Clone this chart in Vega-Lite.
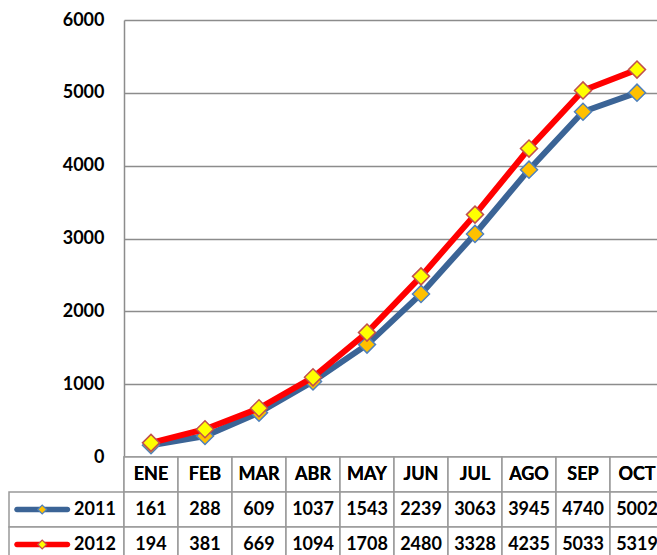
{
  "$schema": "https://vega.github.io/schema/vega-lite/v6.json",
  "padding": {"left": 8, "top": 11, "right": 0, "bottom": 0},
  "background": "white",
  "config": {"font": "Lato", "view": {"stroke": null}},
  "datasets": {
    "valores": [
      {"mes": "ENE", "serie": "2011", "valor": 161},
      {"mes": "FEB", "serie": "2011", "valor": 288},
      {"mes": "MAR", "serie": "2011", "valor": 609},
      {"mes": "ABR", "serie": "2011", "valor": 1037},
      {"mes": "MAY", "serie": "2011", "valor": 1543},
      {"mes": "JUN", "serie": "2011", "valor": 2239},
      {"mes": "JUL", "serie": "2011", "valor": 3063},
      {"mes": "AGO", "serie": "2011", "valor": 3945},
      {"mes": "SEP", "serie": "2011", "valor": 4740},
      {"mes": "OCT", "serie": "2011", "valor": 5002},
      {"mes": "ENE", "serie": "2012", "valor": 194},
      {"mes": "FEB", "serie": "2012", "valor": 381},
      {"mes": "MAR", "serie": "2012", "valor": 669},
      {"mes": "ABR", "serie": "2012", "valor": 1094},
      {"mes": "MAY", "serie": "2012", "valor": 1708},
      {"mes": "JUN", "serie": "2012", "valor": 2480},
      {"mes": "JUL", "serie": "2012", "valor": 3328},
      {"mes": "AGO", "serie": "2012", "valor": 4235},
      {"mes": "SEP", "serie": "2012", "valor": 5033},
      {"mes": "OCT", "serie": "2012", "valor": 5319}
    ],
    "series": [{"serie": "2011"}, {"serie": "2012"}]
  },
  "columns": 2,
  "spacing": 0,
  "bounds": "flush",
  "concat": [
    {
      "width": 115,
      "height": 437,
      "data": {"values": []},
      "mark": {"type": "point", "opacity": 0},
      "encoding": {}
    },
    {
      "width": 540,
      "height": 437,
      "data": {"name": "valores"},
      "encoding": {
        "x": {
          "field": "mes",
          "type": "ordinal",
          "scale": {"domain": ["ENE", "FEB", "MAR", "ABR", "MAY", "JUN", "JUL", "AGO", "SEP", "OCT"], "type": "point", "padding": 0.5},
          "axis": null
        },
        "y": {
          "field": "valor",
          "type": "quantitative",
          "scale": {"domain": [0, 6000], "nice": false, "zero": true},
          "axis": {
            "values": [0, 1000, 2000, 3000, 4000, 5000, 6000],
            "format": "d",
            "title": null,
            "grid": true,
            "gridColor": "#8c8c8c",
            "gridWidth": 1.5,
            "domainColor": "#8c8c8c",
            "domainWidth": 1.5,
            "ticks": false,
            "labelPadding": 20,
            "labelFont": "Lato",
            "labelFontWeight": "bold",
            "labelFontSize": 18,
            "labelColor": "#000000"
          }
        }
      },
      "layer": [
        {
          "transform": [{"filter": "datum.serie == '2011'"}],
          "mark": {"type": "line", "color": "#3b6496", "strokeWidth": 6}
        },
        {
          "transform": [{"filter": "datum.serie == '2011'"}],
          "mark": {"type": "point", "shape": "diamond", "filled": true, "fill": "#ffc000", "stroke": "#4f81bd", "strokeWidth": 1.5, "size": 290, "opacity": 1}
        },
        {
          "transform": [{"filter": "datum.serie == '2012'"}],
          "mark": {"type": "line", "color": "#ff0000", "strokeWidth": 6}
        },
        {
          "transform": [{"filter": "datum.serie == '2012'"}],
          "mark": {"type": "point", "shape": "diamond", "filled": true, "fill": "#ffff00", "stroke": "#c0504d", "strokeWidth": 1.5, "size": 290, "opacity": 1}
        }
      ]
    },
    {
      "width": 115,
      "height": 105,
      "data": {"name": "series"},
      "encoding": {
        "y": {
          "field": "serie",
          "type": "nominal",
          "scale": {"domain": ["MES", "2011", "2012"], "paddingInner": 0, "paddingOuter": 0},
          "axis": null
        }
      },
      "layer": [
        {
          "mark": {"type": "rect", "fill": "white", "stroke": "#999999", "strokeWidth": 1.5}
        },
        {
          "mark": {"type": "rect", "width": 56, "height": 5.5, "cornerRadius": 2.75},
          "encoding": {
            "x": {"datum": "clave", "type": "nominal", "scale": {"domain": ["clave", "texto"], "paddingInner": 0, "paddingOuter": 0.09, "align": 0.72}, "axis": null},
            "color": {"field": "serie", "type": "nominal", "scale": {"domain": ["2011", "2012"], "range": ["#3b6496", "#ff0000"]}, "legend": null}
          }
        },
        {
          "mark": {"type": "point", "shape": "diamond", "filled": true, "strokeWidth": 1.2, "size": 80, "opacity": 1},
          "encoding": {
            "x": {"datum": "clave", "type": "nominal"},
            "fill": {"field": "serie", "type": "nominal", "scale": {"domain": ["2011", "2012"], "range": ["#ffc000", "#ffff00"]}, "legend": null},
            "stroke": {"field": "serie", "type": "nominal", "scale": {"domain": ["2011", "2012"], "range": ["#4f81bd", "#c0504d"]}, "legend": null}
          }
        },
        {
          "mark": {"type": "text", "font": "Lato", "fontWeight": "bold", "fontSize": 18, "color": "#000000"},
          "encoding": {
            "x": {"datum": "texto", "type": "nominal"},
            "text": {"field": "serie", "type": "nominal"}
          }
        }
      ]
    },
    {
      "width": 540,
      "height": 105,
      "data": {"name": "valores"},
      "encoding": {
        "x": {
          "field": "mes",
          "type": "ordinal",
          "scale": {"domain": ["ENE", "FEB", "MAR", "ABR", "MAY", "JUN", "JUL", "AGO", "SEP", "OCT"], "type": "band", "paddingInner": 0, "paddingOuter": 0},
          "axis": null
        }
      },
      "layer": [
        {
          "mark": {"type": "rect", "fill": "white", "stroke": "#999999", "strokeWidth": 1.5},
          "encoding": {
            "y": {"datum": "MES", "type": "nominal", "scale": {"domain": ["MES", "2011", "2012"], "paddingInner": 0, "paddingOuter": 0}, "axis": null}
          }
        },
        {
          "mark": {"type": "rect", "fill": "white", "stroke": "#999999", "strokeWidth": 1.5},
          "encoding": {
            "y": {"field": "serie", "type": "nominal"}
          }
        },
        {
          "mark": {"type": "text", "font": "Lato", "fontWeight": "bold", "fontSize": 18, "color": "#000000"},
          "encoding": {
            "y": {"datum": "MES", "type": "nominal"},
            "text": {"field": "mes", "type": "nominal"}
          }
        },
        {
          "mark": {"type": "text", "font": "Lato", "fontWeight": "bold", "fontSize": 18, "color": "#000000"},
          "encoding": {
            "y": {"field": "serie", "type": "nominal"},
            "text": {"field": "valor", "type": "quantitative", "format": "d"}
          }
        }
      ]
    }
  ]
}
